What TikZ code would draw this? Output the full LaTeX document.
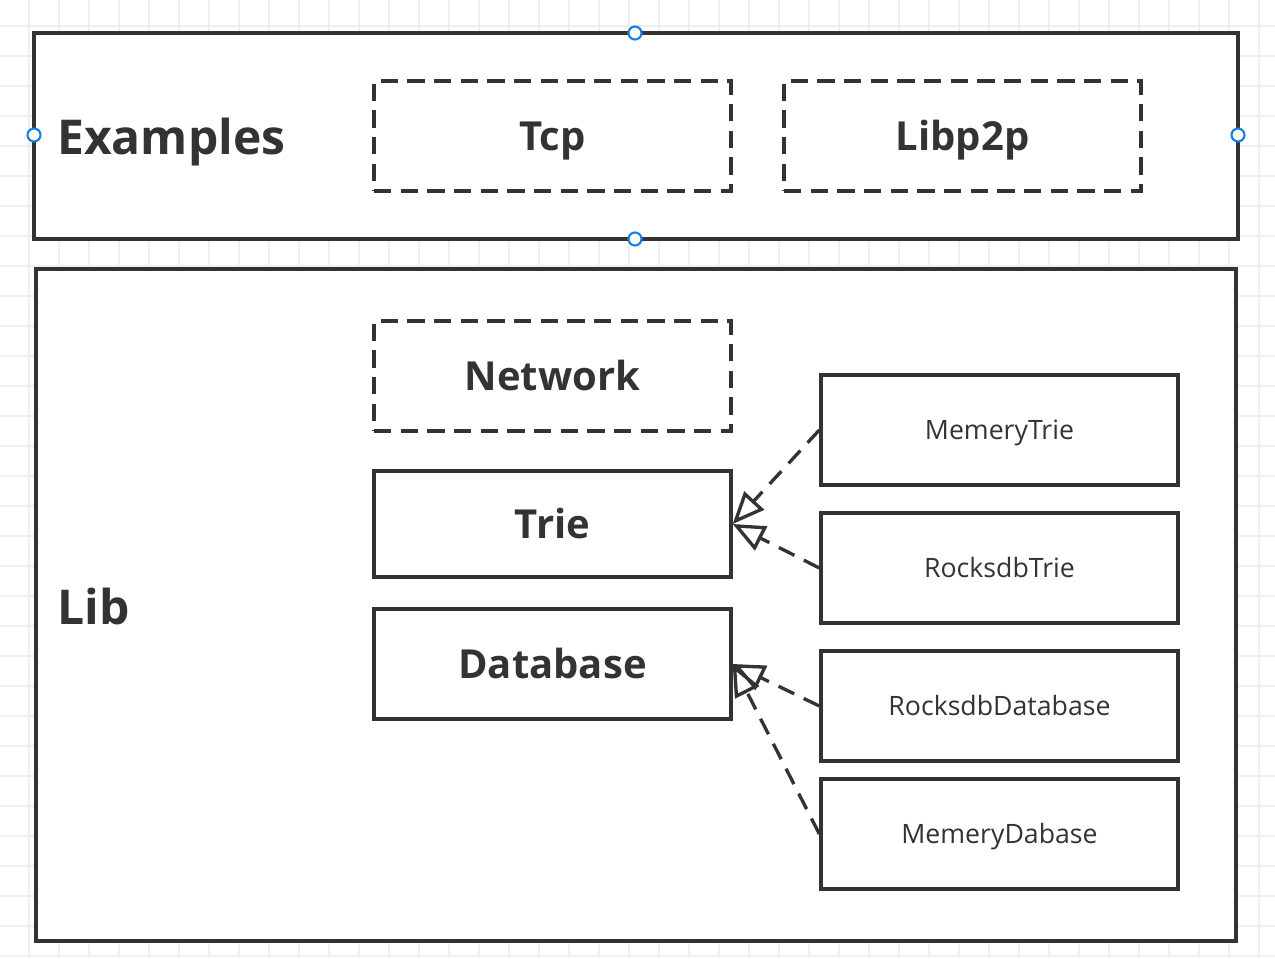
\documentclass[tikz,border=0pt]{standalone}
\usepackage{fontspec}
\setmainfont{Open Sans}
\usetikzlibrary{arrows.meta}
\definecolor{ink}{HTML}{333333}
\definecolor{gridc}{HTML}{EFEFEF}
\definecolor{handle}{HTML}{1A7FE6}
\begin{document}
\begin{tikzpicture}[x=0.75pt,y=-0.75pt,
  box/.style={draw=ink,line width=2.5pt,fill=white,minimum width=357*0.75pt,minimum height=110*0.75pt,inner sep=0pt,text=ink},
  dbox/.style={box,dash pattern=on 13pt off 7pt},
  big/.style={font=\fontsize{30}{32}\selectfont\bfseries,text height=27pt,text depth=5.6pt},
  small/.style={font=\fontsize{20}{22}\selectfont,text height=18pt,text depth=3.7pt},
  frame/.style={draw=ink,line width=2.5pt,fill=white},
  title/.style={anchor=west,text=ink,inner sep=0pt,font=\fontsize{36}{40}\selectfont\bfseries,text height=32pt,text depth=6.3pt},
  inherit/.style={draw=ink,line width=2.5pt,dash pattern=on 13pt off 8pt,-{Triangle[open,length=24pt,width=20pt,line width=2.5pt]}},
  hdl/.style={circle,draw=handle,fill=white,line width=1.6pt,minimum size=13*0.75pt,inner sep=0pt}]
\useasboundingbox (0,0) rectangle (1275,958);
\fill[white] (0,0) rectangle (1275,958);
\foreach \i in {0,...,42} {\draw[gridc,line width=1.2pt] (29+30*\i,0) -- (29+30*\i,958);}
\foreach \i in {0,...,31} {\draw[gridc,line width=1.2pt] (0,26+30*\i) -- (1275,26+30*\i);}
% frames
\draw[frame] (34,33) rectangle (1238,239);
\draw[frame] (36,269) rectangle (1236,941);
\node[title] (ex) at (57,137) {Examples};
\node[title] (lib) at (57,607) {Lib};
% boxes
\node[dbox,big] (tcp) at (552.5,136) {Tcp};
\node[dbox,big] (p2p) at (962.5,136) {Libp2p};
\node[dbox,big] (net) at (552.5,376) {Network};
\node[box,big,minimum height=106*0.75pt] (trie) at (552.5,524) {Trie};
\node[box,big] (db) at (552.5,664) {Database};
\node[box,small] (mt) at (999.5,430) {MemeryTrie};
\node[box,small] (rt) at (999.5,568) {RocksdbTrie};
\node[box,small] (rd) at (999.5,706) {RocksdbDatabase};
\node[box,small] (md) at (999.5,834) {MemeryDabase};
% arrows
\draw[inherit] (mt.west) -- (trie.east);
\draw[inherit] (rt.west) -- (trie.east);
\draw[inherit] (rd.west) -- (db.east);
\draw[inherit] (md.west) -- (db.east);
% handles
\node[hdl] (h1) at (635,33) {};
\node[hdl] (h2) at (635,239) {};
\node[hdl] (h3) at (34,135) {};
\node[hdl] (h4) at (1238,135) {};
\end{tikzpicture}
\end{document}
